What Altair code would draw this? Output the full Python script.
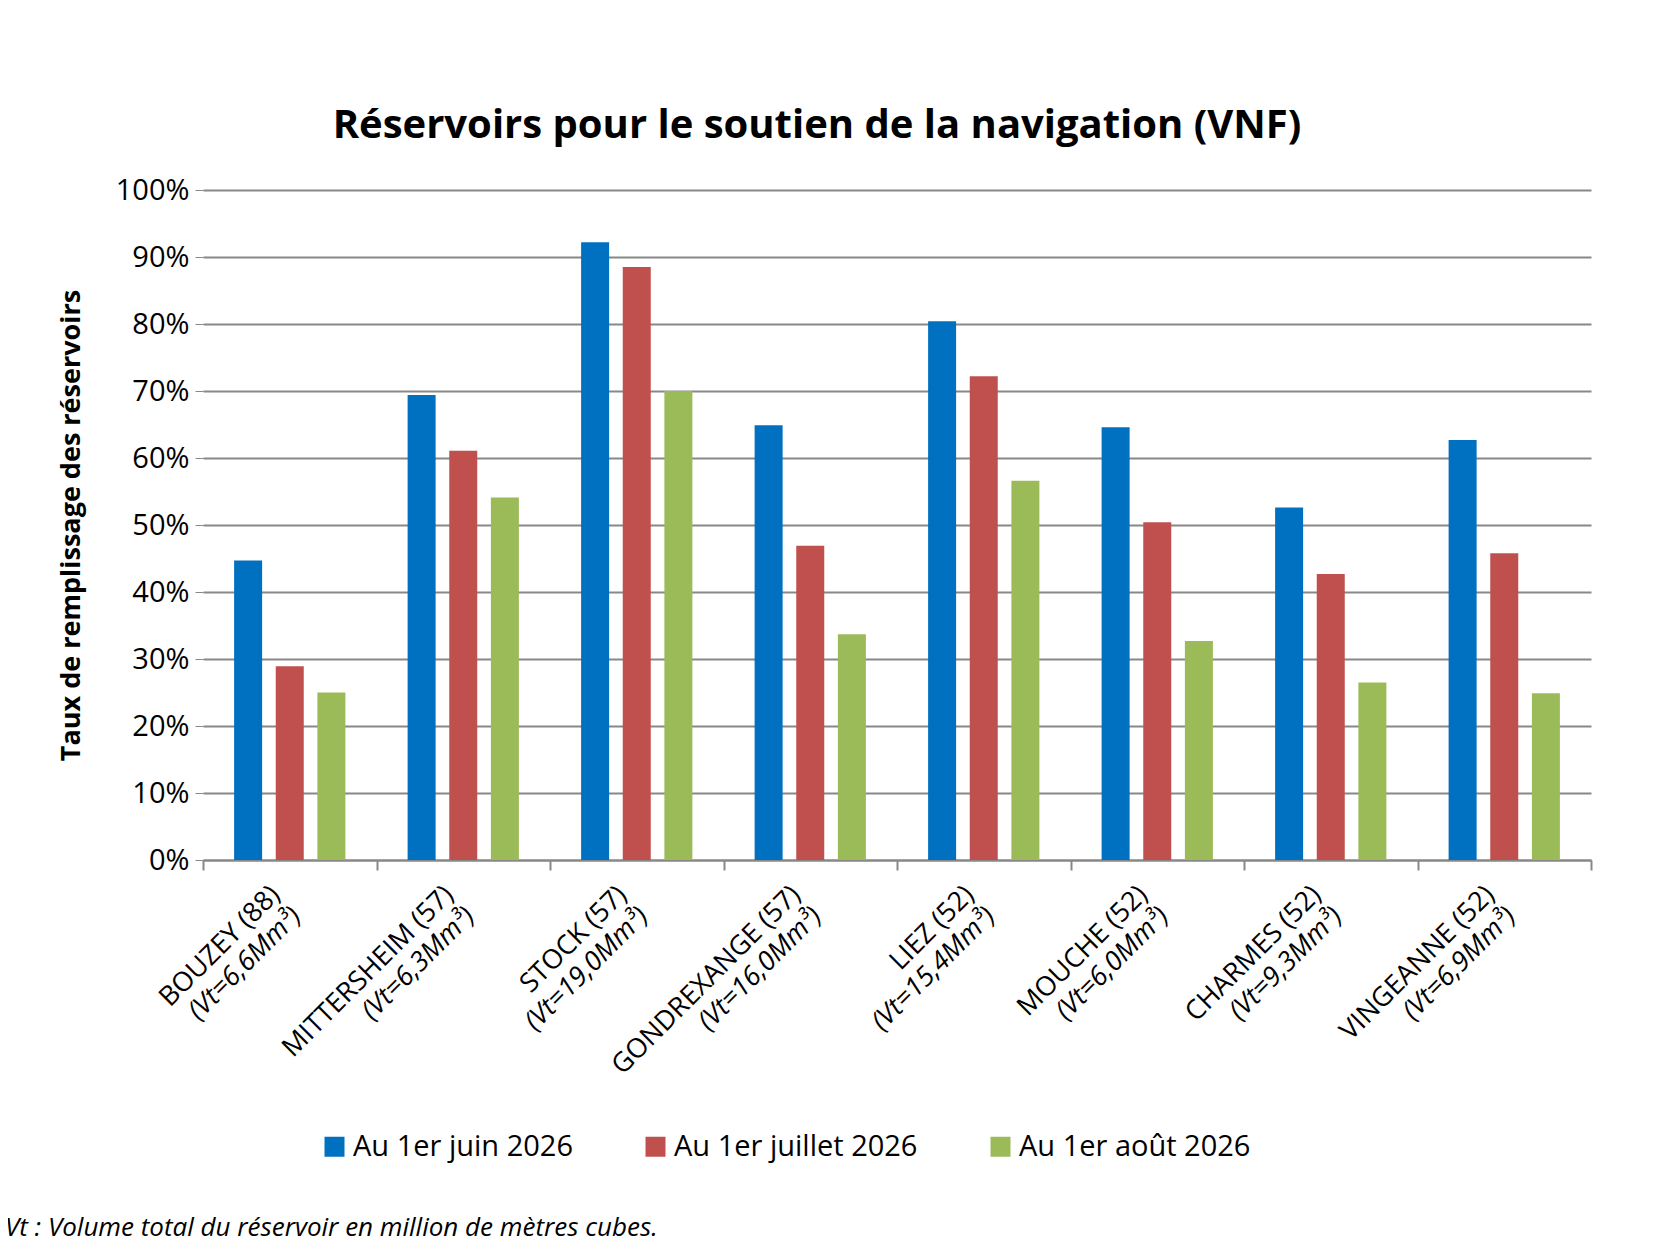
import altair as alt
import pandas as pd

reservoirs = ["BOUZEY (88)", "MITTERSHEIM (57)", "STOCK (57)", "GONDREXANGE (57)",
              "LIEZ (52)", "MOUCHE (52)", "CHARMES (52)", "VINGEANNE (52)"]
volumes = ["(Vt=6,6Mm³)", "(Vt=6,3Mm³)", "(Vt=19,0Mm³)", "(Vt=16,0Mm³)",
           "(Vt=15,4Mm³)", "(Vt=6,0Mm³)", "(Vt=9,3Mm³)", "(Vt=6,9Mm³)"]
series = ["Au 1er juin 2026", "Au 1er juillet 2026", "Au 1er août 2026"]
juin = [44.7, 69.4, 92.2, 64.9, 80.4, 64.6, 52.6, 62.7]
juillet = [28.9, 61.1, 88.5, 46.9, 72.2, 50.4, 42.7, 45.8]
aout = [25.0, 54.1, 70.0, 33.7, 56.6, 32.7, 26.5, 24.9]
colors = ["#0070C0", "#C0504D", "#9BBB59"]

rows = []
for vals, s in zip([juin, juillet, aout], series):
    for r, v in zip(reservoirs, vals):
        rows.append({"Réservoir": r, "Série": s, "Taux": v / 100})
df = pd.DataFrame(rows)
labels = pd.DataFrame({"Réservoir": reservoirs, "Vt": volumes})

W, H = 1388, 670
FONT = "Open Sans"

x = alt.X("Réservoir:N", sort=reservoirs, scale=alt.Scale(padding=0, paddingInner=0, paddingOuter=0),
          axis=alt.Axis(labels=False, title=None, tickBand="extent", tickSize=10,
                        domainColor="#888888", tickColor="#888888", domainWidth=2, tickWidth=2))

bars = alt.Chart(df).mark_bar(size=28).encode(
    x=x,
    xOffset=alt.XOffset("Série:N", sort=series,
                        scale=alt.Scale(paddingInner=0.333, paddingOuter=0.75)),
    y=alt.Y("Taux:Q", scale=alt.Scale(domain=[0, 1]),
            axis=alt.Axis(format=".0%", values=[i / 10 for i in range(11)], grid=True,
                          gridColor="#888888", gridWidth=2, domain=False, ticks=True,
                          tickColor="#888888", tickSize=8, labelFontSize=29, labelFont=FONT,
                          labelColor="black", labelPadding=6,
                          title="Taux de remplissage des réservoirs", titleFont=FONT,
                          titleFontSize=27, titleFontWeight="bold", titlePadding=30)),
    color=alt.Color("Série:N", sort=series, scale=alt.Scale(domain=series, range=colors),
                    legend=alt.Legend(orient="none", legendX=117, legendY=942, direction="horizontal",
                                      title=None, symbolType="square", symbolSize=400,
                                      symbolStrokeWidth=0, labelFont=FONT, labelFontSize=29,
                                      columnPadding=68, labelLimit=400)),
)

line1 = alt.Chart(labels).mark_text(angle=315, align="right", baseline="middle",
                                    font=FONT, fontSize=27, dx=-12, dy=-8).encode(
    x=alt.X("Réservoir:N", sort=reservoirs),
    y=alt.value(H + 28),
    text="Réservoir:N",
)
line2 = alt.Chart(labels).mark_text(angle=315, align="right", baseline="middle",
                                    font=FONT, fontSize=27, fontStyle="italic", dx=-12, dy=22).encode(
    x=alt.X("Réservoir:N", sort=reservoirs),
    y=alt.value(H + 28),
    text="Vt:N",
)
note = alt.Chart(pd.DataFrame({"t": ["Vt : Volume total du réservoir en million de mètres cubes."]})).mark_text(
    align="left", baseline="middle", font=FONT, fontSize=26, fontStyle="italic").encode(
    x=alt.value(-198), y=alt.value(H + 368), text="t:N")

chart = alt.layer(bars, line1, line2, note).properties(
    width=W, height=H,
    autosize=alt.AutoSizeParams(type="none"),
    padding={"left": 195, "top": 182, "right": 60, "bottom": 420},
    title=alt.TitleParams("Réservoirs pour le soutien de la navigation (VNF)", font=FONT,
                          fontSize=40, fontWeight="bold", color="black", dx=-80, offset=30),
).configure_view(stroke=None).configure_axis(labelFont=FONT)

chart.save("out.html", embed_options={"renderer": "svg", "actions": False})
